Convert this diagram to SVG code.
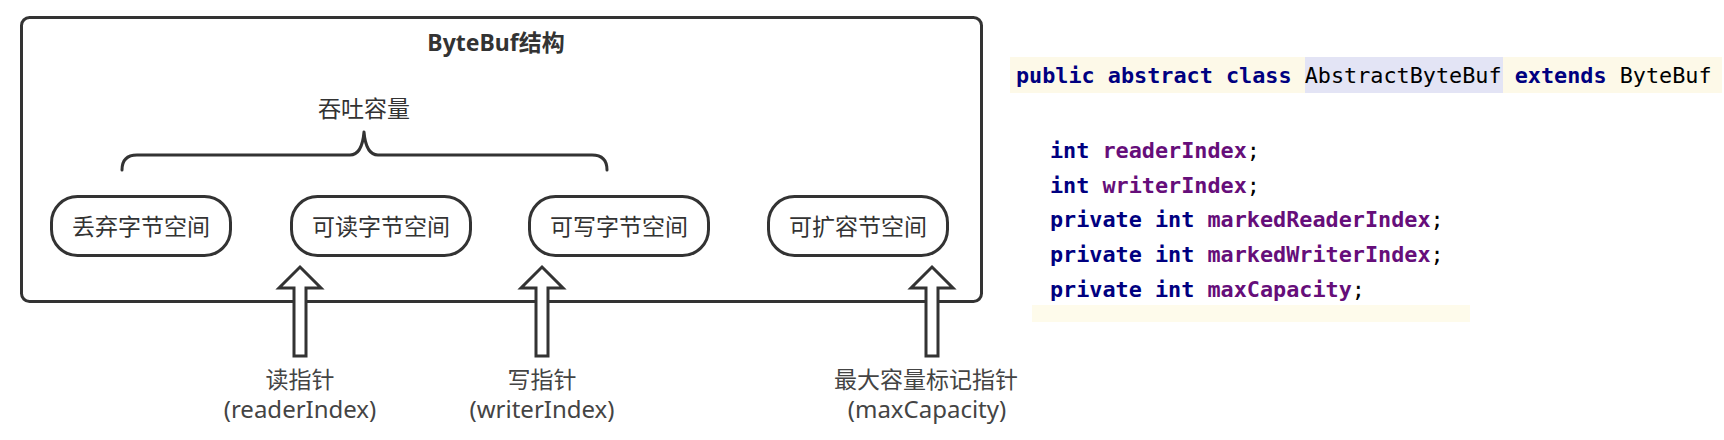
<svg xmlns="http://www.w3.org/2000/svg" width="1724" height="440" viewBox="0 0 1724 440">
<style>
.frame{fill:#fff;stroke:#333;stroke-width:3}
.node rect{fill:#fff;stroke:#333;stroke-width:3}
.t{font-family:"Noto Sans","Noto Sans CJK SC",sans-serif;font-size:23px;fill:#333;text-anchor:middle}
.title{font-family:"Noto Sans","Noto Sans CJK SC",sans-serif;font-size:23px;font-weight:bold;fill:#333;text-anchor:middle}
.lbl{font-family:"Noto Sans","Noto Sans CJK SC",sans-serif;font-size:23px;fill:#444;text-anchor:middle}
.lat{font-size:24px}
.brace{fill:none;stroke:#333;stroke-width:3;stroke-linejoin:round;stroke-linecap:round}
.arr{fill:#fff;stroke:#333;stroke-width:3;stroke-linejoin:miter}
.code{font-family:"DejaVu Sans Mono","Liberation Mono",monospace;font-size:21.8px;fill:#000;white-space:pre}
.kw{fill:#000080;font-weight:bold}
.fld{fill:#660e7a;font-weight:bold}
</style>
<rect width="1724" height="440" fill="#fff"/>
<g id="bytebuf-frame">
<rect class="frame" x="21.5" y="17.5" width="960" height="284" rx="8"/>
<text class="title" x="496" y="51">ByteBuf结构</text>
</g>
<g id="throughput">
<text class="t" x="364" y="117">吞吐容量</text>
<path class="brace" d="M122,170 Q122,155 137,155 L350,155 Q362,155 364,132 Q366,155 378,155 L592,155 Q607,155 607,170"/>
</g>
<g id="node-discard" class="node">
<rect x="51.5" y="196.5" width="179" height="59" rx="26"/>
<text class="t" x="141" y="235">丢弃字节空间</text>
</g>
<g id="node-readable" class="node">
<rect x="291.5" y="196.5" width="179" height="59" rx="26"/>
<text class="t" x="381" y="235">可读字节空间</text>
</g>
<g id="node-writable" class="node">
<rect x="529.5" y="196.5" width="179" height="59" rx="26"/>
<text class="t" x="619" y="235">可写字节空间</text>
</g>
<g id="node-expandable" class="node">
<rect x="768.5" y="196.5" width="179" height="59" rx="26"/>
<text class="t" x="858" y="235">可扩容节空间</text>
</g>
<g id="connectors">
<polygon class="arr" points="300,267 321,288 306,288 306,356 294,356 294,288 279,288"/>
<polygon class="arr" points="542,267 563,288 548,288 548,356 536,356 536,288 521,288"/>
<polygon class="arr" points="932,267 953,288 938,288 938,356 926,356 926,288 911,288"/>
</g>
<g id="label-reader">
<text class="lbl" x="300" y="388">读指针</text>
<text class="lbl lat" x="300" y="418">(readerIndex)</text>
</g>
<g id="label-writer">
<text class="lbl" x="542" y="388">写指针</text>
<text class="lbl lat" x="542" y="418">(writerIndex)</text>
</g>
<g id="label-max">
<text class="lbl" x="926" y="388">最大容量标记指针</text>
<text class="lbl lat" x="927" y="418">(maxCapacity)</text>
</g>
<g id="code">
<rect x="1010" y="57" width="712" height="36" fill="#fdf9e8"/>
<rect x="1305" y="57" width="198" height="36" fill="#e3e4f5"/>
<rect x="1032" y="305" width="438" height="17" fill="#fefbeb"/>
<text class="code" x="1016" y="83"><tspan class="kw">public abstract class</tspan> AbstractByteBuf <tspan class="kw">extends</tspan> ByteBuf</text>
<text class="code" x="1050" y="158"><tspan class="kw">int</tspan> <tspan class="fld">readerIndex</tspan>;</text>
<text class="code" x="1050" y="192.7"><tspan class="kw">int</tspan> <tspan class="fld">writerIndex</tspan>;</text>
<text class="code" x="1050" y="227.4"><tspan class="kw">private int</tspan> <tspan class="fld">markedReaderIndex</tspan>;</text>
<text class="code" x="1050" y="262"><tspan class="kw">private int</tspan> <tspan class="fld">markedWriterIndex</tspan>;</text>
<text class="code" x="1050" y="296.7"><tspan class="kw">private int</tspan> <tspan class="fld">maxCapacity</tspan>;</text>
</g>
</svg>
